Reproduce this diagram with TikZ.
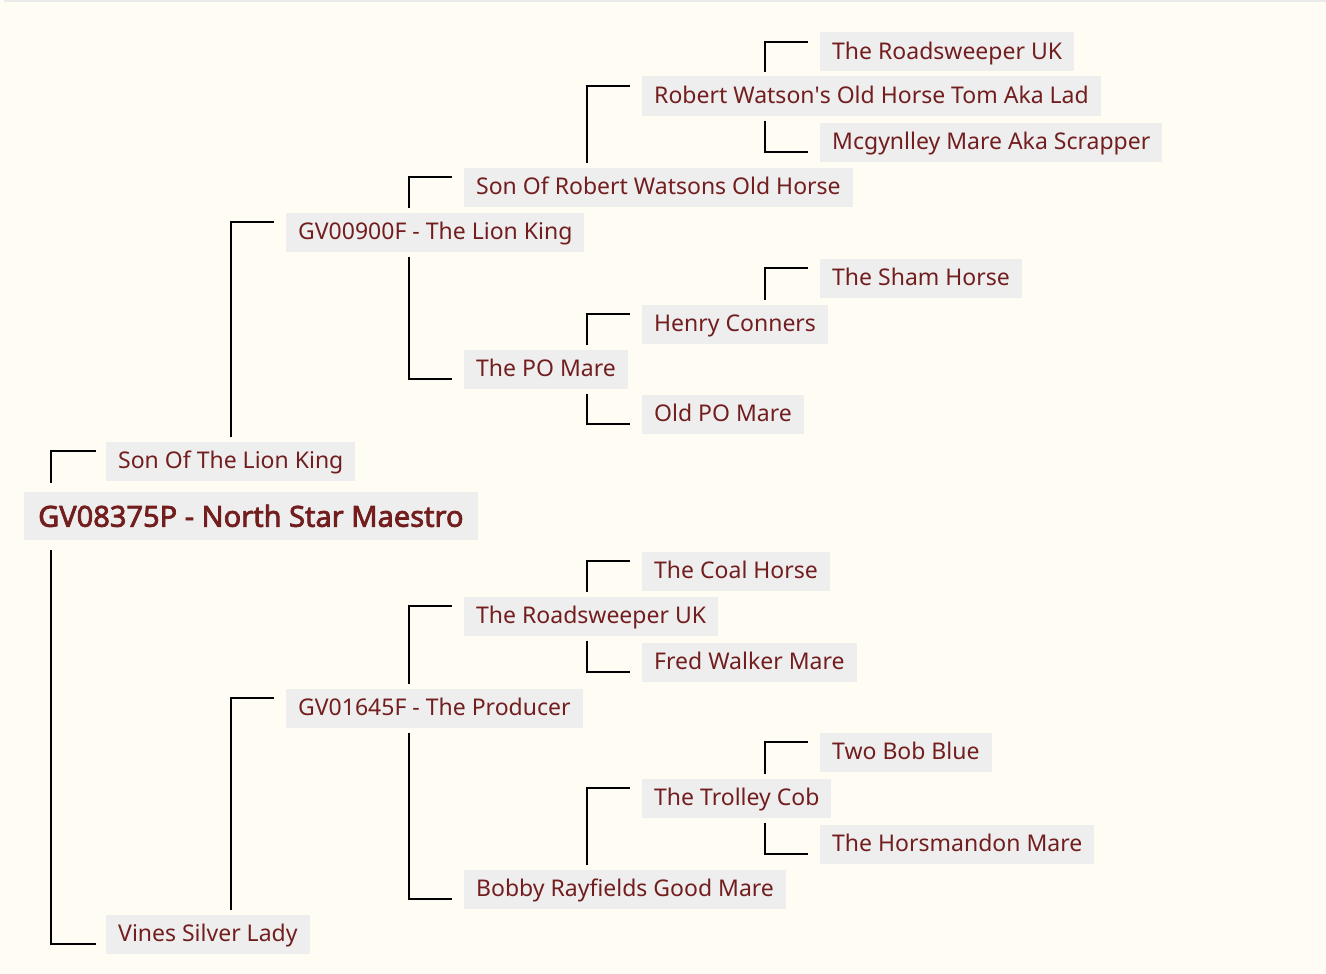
\documentclass[tikz,border=0pt]{standalone}
\usepackage{fontspec}
\setmainfont{Noto Sans}[AutoFakeBold=2.5]
\usetikzlibrary{calc}
\definecolor{bgc}{RGB}{254,252,243}
\definecolor{boxc}{RGB}{238,238,239}
\definecolor{txtc}{RGB}{115,30,30}
\definecolor{topc}{RGB}{234,234,234}
\begin{document}
\begin{tikzpicture}[x=1pt,y=-1pt,
  person/.style={anchor=west,fill=boxc,text=txtc,inner xsep=12pt,inner ysep=0pt,
    minimum height=39pt,text height=19pt,text depth=3.5pt,font=\fontsize{23}{27}\selectfont},
  rootbox/.style={person,minimum height=48pt,text height=24pt,text depth=2.5pt,
    inner xsep=14pt,font=\fontsize{29}{34}\selectfont\bfseries},
  link/.style={draw=black,line width=2pt}]
\fill[bgc] (0,0) rectangle (1326,974);
\useasboundingbox (0,0) rectangle (1326,974);
\fill[topc] (4,0) rectangle (1326,2);
% level 0
\node[rootbox] (root) at (24,516) {GV08375P - North Star Maestro};
% level 1
\node[person] (s1) at (106,461) {Son Of The Lion King};
\node[person] (d1) at (106,934) {Vines Silver Lady};
% level 2
\node[person] (s2) at (286,232) {GV00900F - The Lion King};
\node[person] (d2) at (286,708) {GV01645F - The Producer};
% level 3
\node[person] (ss3) at (464,187) {Son Of Robert Watsons Old Horse};
\node[person] (sd3) at (464,369) {The PO Mare};
\node[person] (ds3) at (464,616) {The Roadsweeper UK};
\node[person] (dd3) at (464,889) {Bobby Rayfields Good Mare};
% level 4
\node[person] (sss4) at (642,96) {Robert Watson\textquotesingle s Old Horse Tom Aka Lad};
\node[person] (sds4) at (642,324) {Henry Conners};
\node[person] (sdd4) at (642,414) {Old PO Mare};
\node[person] (dss4) at (642,571) {The Coal Horse};
\node[person] (dsd4) at (642,662) {Fred Walker Mare};
\node[person] (dds4) at (642,798) {The Trolley Cob};
% level 5
\node[person] (ssss5) at (820,52) {The Roadsweeper UK};
\node[person] (sssd5) at (820,142) {Mcgynlley Mare Aka Scrapper};
\node[person] (sdss5) at (820,278) {The Sham Horse};
\node[person] (ddss5) at (820,752) {Two Bob Blue};
\node[person] (ddsd5) at (820,844) {The Horsmandon Mare};
% connectors
\newcommand{\upl}[3]{\draw[link] ($(#2.west|-#1.north)+(-55,-#3)$) |- ($(#2.west)+(-12,-10)$);}
\newcommand{\dnl}[3]{\draw[link] ($(#2.west|-#1.south)+(-55,#3)$) |- ($(#2.west)+(-12,10)$);}
\draw[link] ($(s1.west|-root.north)+(-55,-9)$) |- ($(s1.west)+(-10,-10)$);
\draw[link] ($(d1.west|-root.south)+(-55,10)$) |- ($(d1.west)+(-10,10)$);
\upl{s1}{s2}{4} \upl{d1}{d2}{4}
\upl{s2}{ss3}{4} \dnl{s2}{sd3}{5}
\upl{d2}{ds3}{4} \dnl{d2}{dd3}{5}
\upl{ss3}{sss4}{4}
\upl{sd3}{sds4}{4} \dnl{sd3}{sdd4}{5}
\upl{ds3}{dss4}{4} \dnl{ds3}{dsd4}{5}
\upl{dd3}{dds4}{4}
\upl{sss4}{ssss5}{4} \dnl{sss4}{sssd5}{5}
\upl{sds4}{sdss5}{4}
\upl{dds4}{ddss5}{4} \dnl{dds4}{ddsd5}{5}
\end{tikzpicture}
\end{document}
